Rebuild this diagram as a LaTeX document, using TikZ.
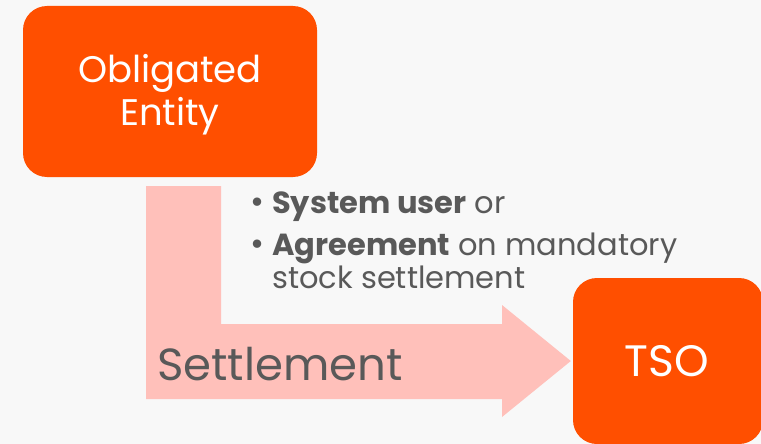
\documentclass[tikz,border=0pt]{standalone}
\usepackage{fontspec}
\setmainfont{Poppins}
\definecolor{bg}{HTML}{F8F8F8}
\definecolor{orng}{HTML}{FF4F00}
\definecolor{pnk}{HTML}{FFC0BA}
\definecolor{txtgray}{HTML}{595959}
\begin{document}
\begin{tikzpicture}[x=1pt,y=-1pt,
  obox/.style={fill=orng, rounded corners=24pt, inner sep=0pt},
  wtext/.style={text=white, inner sep=0pt},
  gtext/.style={text=txtgray, inner sep=0pt},
  btext/.style={gtext, anchor=base west, font=\fontsize{30.5}{36}\selectfont}]
\fill[bg] (0,0) rectangle (761,444);
\useasboundingbox (0,0) rectangle (761,444);
% boxes
\node[obox, minimum width=294pt, minimum height=171pt] (oe) at (170,91.5) {};
\node[obox, minimum width=190pt, minimum height=166pt] (tso) at (668,361) {};
% bent arrow from Obligated Entity to TSO
\coordinate (tip) at (tso.west);
\fill[pnk] (146,186) -- (221,186) -- (221,324) -- (502,324) -- (502,305) -- ([xshift=-2pt]tip) -- (502,417) -- (502,399) -- (146,399) -- cycle;
\node[wtext, anchor=base, font=\fontsize{37}{44}\selectfont] (oe1) at (170,83) {Obligated};
\node[wtext, anchor=base, font=\fontsize{37}{44}\selectfont] (oe2) at (170,125) {Entity};
\node[wtext, font=\fontsize{44}{52}\selectfont] (tsot) at (667,361) {TSO};
\node[gtext, anchor=base west, font=\fontsize{45}{54}\selectfont] (st) at (157,380) {Settlement};
% bullets
\node[btext, font=\fontsize{34}{40}\selectfont] (b1) at (250,213) {•};
\node[btext] (l1) at (272,213) {\textbf{System user} or};
\node[btext, font=\fontsize{34}{40}\selectfont] (b2) at (250,255) {•};
\node[btext] (l2) at (272,255) {\textbf{Agreement} on mandatory};
\node[btext] (l3) at (272,288) {stock settlement};
\end{tikzpicture}
\end{document}
